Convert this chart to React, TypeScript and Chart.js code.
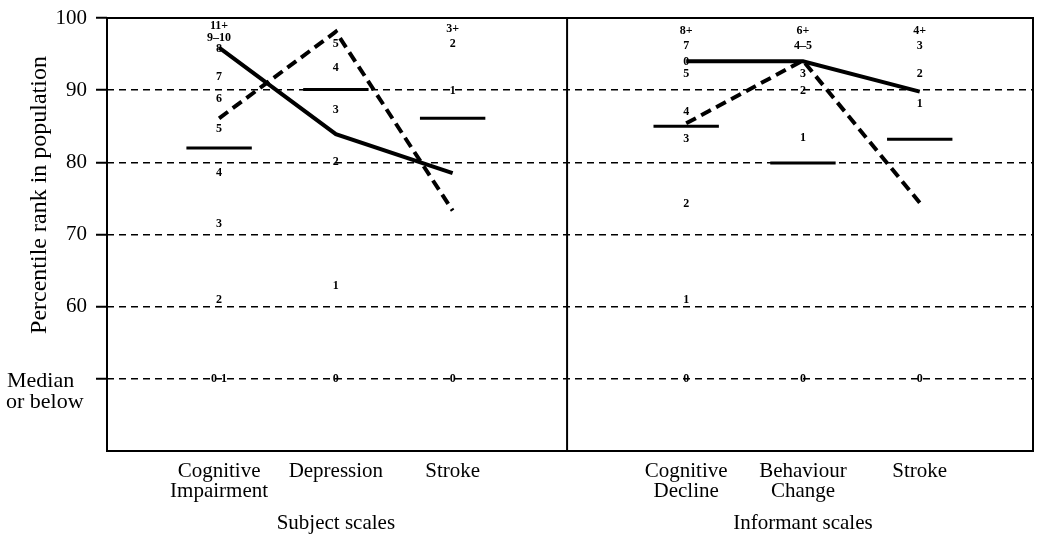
import React, { useEffect, useRef } from 'react';
import { Chart, registerables } from 'chart.js';

Chart.register(...registerables);

// ---- data ----
const CATEGORY_POS = [0, 1, 2, 4, 5, 6];
const CATEGORY_LABELS = [
  ['Cognitive', 'Impairment'],
  ['Depression'],
  ['Stroke'],
  ['Cognitive', 'Decline'],
  ['Behaviour', 'Change'],
  ['Stroke'],
];
const GROUP_LABELS = ['Subject scales', 'Informant scales'];
const GROUP_POS = [1, 5];
const DIVIDER_POS = 2.98;
const Y_TICKS = [50, 60, 70, 80, 90, 100];
const Y_TICK_LABELS = ['', '60', '70', '80', '90', '100'];
const MEDIAN_LABEL = ['Median', 'or below'];
const Y_TITLE = 'Percentile rank in population';

const subjectSolid = [95.9, 83.9, 78.5];
const subjectDashed = [86.1, 98.1, 73.3];
const subjectMarker = [82.0, 90.1, 86.1];
const informantSolid = [94.0, 94.0, 89.8];
const informantDashed = [85.4, 94.1, 74.4];
const informantMarker = [85.0, 79.9, 83.2];

// raw-score labels for each column (text + percentile position)
const cogImpTexts = ['11+', '9–10', '8', '7', '6', '5', '4', '3', '2', '0-1'];
const cogImpValues = [98.9, 97.3, 95.7, 91.8, 88.8, 84.7, 78.5, 71.4, 61.0, 50];
const depressionTexts = ['5', '4', '3', '2', '1', '0'];
const depressionValues = [96.4, 93.1, 87.3, 80.0, 62.9, 50];
const strokeSubjTexts = ['3+', '2', '1', '0'];
const strokeSubjValues = [98.5, 96.4, 89.9, 50];
const cogDeclineTexts = ['8+', '7', '0', '5', '4', '3', '2', '1', '0'];
const cogDeclineValues = [98.2, 96.1, 93.9, 92.3, 87.0, 83.3, 74.2, 61.0, 50];
const behaviourTexts = ['6+', '4–5', '3', '2', '1', '0'];
const behaviourValues = [98.2, 96.1, 92.3, 89.9, 83.4, 50];
const strokeInfTexts = ['4+', '3', '2', '1', '0'];
const strokeInfValues = [98.2, 96.1, 92.3, 88.1, 50];

const RAW_TEXTS = [cogImpTexts, depressionTexts, strokeSubjTexts, cogDeclineTexts, behaviourTexts, strokeInfTexts];
const RAW_VALUES = [cogImpValues, depressionValues, strokeSubjValues, cogDeclineValues, behaviourValues, strokeInfValues];

// ---- styles ----
const SERIF = '"Liberation Serif", "DejaVu Serif", serif';
const INK = '#000';
const MARKER_HALF = 0.28;

const pts = (xs: number[], ys: number[]) => xs.map((x, i) => ({ x, y: ys[i] }));

export default function App() {
  const ref = useRef<HTMLCanvasElement | null>(null);

  useEffect(() => {
    document.body.style.margin = '0';
    const canvas = ref.current;
    if (!canvas) return;
    const subjX = CATEGORY_POS.slice(0, 3);
    const infX = CATEGORY_POS.slice(3);

    const lineStyle = (dashed: boolean, width: number) => ({
      type: 'line' as const,
      borderColor: INK,
      borderWidth: width,
      borderDash: dashed ? [11, 6] : [],
      pointRadius: 0,
      fill: false,
      tension: 0,
    });

    const datasets: any[] = [
      { ...lineStyle(false, 4), data: pts(subjX, subjectSolid) },
      { ...lineStyle(true, 4), data: pts(subjX, subjectDashed) },
      { ...lineStyle(false, 4), data: pts(infX, informantSolid) },
      { ...lineStyle(true, 4), data: pts(infX, informantDashed) },
    ];
    const addMarkers = (xs: number[], ys: number[]) => {
      xs.forEach((x, i) => {
        datasets.push({
          ...lineStyle(false, 3),
          data: [
            { x: x - MARKER_HALF, y: ys[i] },
            { x: x + MARKER_HALF, y: ys[i] },
          ],
        });
      });
    };
    addMarkers(subjX, subjectMarker);
    addMarkers(infX, informantMarker);

    const overlay = {
      id: 'overlay',
      afterDraw(chart: any) {
        const { ctx, chartArea, scales } = chart;
        const x = scales.x;
        const y = scales.y;
        ctx.save();
        // frame
        ctx.strokeStyle = INK;
        ctx.lineWidth = 2;
        ctx.setLineDash([]);
        ctx.beginPath();
        ctx.moveTo(chartArea.left, chartArea.top);
        ctx.lineTo(chartArea.right, chartArea.top);
        ctx.lineTo(chartArea.right, chartArea.bottom);
        ctx.lineTo(chartArea.left, chartArea.bottom);
        ctx.closePath();
        ctx.stroke();
        // divider
        const dx = x.getPixelForValue(DIVIDER_POS);
        ctx.beginPath();
        ctx.moveTo(dx, chartArea.top);
        ctx.lineTo(dx, chartArea.bottom);
        ctx.stroke();

        // raw score labels
        ctx.fillStyle = INK;
        ctx.font = `bold 12px ${SERIF}`;
        ctx.textAlign = 'center';
        ctx.textBaseline = 'middle';
        RAW_TEXTS.forEach((texts, c) => {
          const px = x.getPixelForValue(CATEGORY_POS[c]);
          texts.forEach((t, k) => {
            ctx.fillText(t, px, y.getPixelForValue(RAW_VALUES[c][k]));
          });
        });

        // group labels
        ctx.font = `21px ${SERIF}`;
        ctx.textBaseline = 'alphabetic';
        GROUP_LABELS.forEach((g, i) => {
          ctx.fillText(g, x.getPixelForValue(GROUP_POS[i]), 529);
        });

        // median label
        ctx.font = `22px ${SERIF}`;
        ctx.textAlign = 'left';
        const my = y.getPixelForValue(Y_TICKS[0]);
        ctx.fillText(MEDIAN_LABEL[0], 7, my + 8);
        ctx.fillText(MEDIAN_LABEL[1], 6, my + 29);

        // y title
        ctx.font = `24px ${SERIF}`;
        ctx.translate(46, 195);
        ctx.rotate(-Math.PI / 2);
        ctx.textAlign = 'center';
        ctx.fillText(Y_TITLE, 0, 0);
        ctx.restore();
      },
    };

    const chart = new Chart(canvas, {
      type: 'line',
      data: { datasets },
      options: {
        animation: false,
        responsive: false,
        devicePixelRatio: 1,
        layout: { padding: { top: 18, right: 6, left: 0, bottom: 0 } },
        plugins: { legend: { display: false }, tooltip: { enabled: false } },
        scales: {
          x: {
            type: 'linear',
            min: -0.96,
            max: 6.97,
            afterFit: (s: any) => { s.height = 88; s.paddingLeft = 0; s.paddingRight = 0; },
            afterBuildTicks: (s: any) => { s.ticks = CATEGORY_POS.map((v) => ({ value: v })); },
            grid: { display: false, drawTicks: false },
            border: { display: false },
            ticks: {
              autoSkip: false,
              maxRotation: 0,
              padding: 10,
              color: INK,
              font: { family: SERIF, size: 21, lineHeight: '20px' },
              callback: (v: any) => {
                const i = CATEGORY_POS.indexOf(Number(v));
                return i >= 0 ? CATEGORY_LABELS[i] : '';
              },
            },
          },
          y: {
            type: 'linear',
            min: 40,
            max: 100,
            afterFit: (s: any) => { s.width = 107; s.paddingTop = 0; s.paddingBottom = 0; },
            afterBuildTicks: (s: any) => { s.ticks = Y_TICKS.map((v) => ({ value: v })); },
            grid: {
              color: INK,
              lineWidth: 1.5,
              tickLength: 11,
              tickWidth: 2,
              tickColor: INK,
              tickBorderDash: [],
            },
            border: { display: false, dash: [7, 5] },
            ticks: {
              padding: 9,
              color: INK,
              font: { family: SERIF, size: 21 },
              callback: (v: any) => {
                const i = Y_TICKS.indexOf(Number(v));
                return i >= 0 ? Y_TICK_LABELS[i] : '';
              },
            },
          },
        },
      } as any,
      plugins: [overlay],
    });
    return () => chart.destroy();
  }, []);

  return (
    <div style={{ width: 1039, height: 539 }}>
      <canvas ref={ref} width={1039} height={539} />
    </div>
  );
}
